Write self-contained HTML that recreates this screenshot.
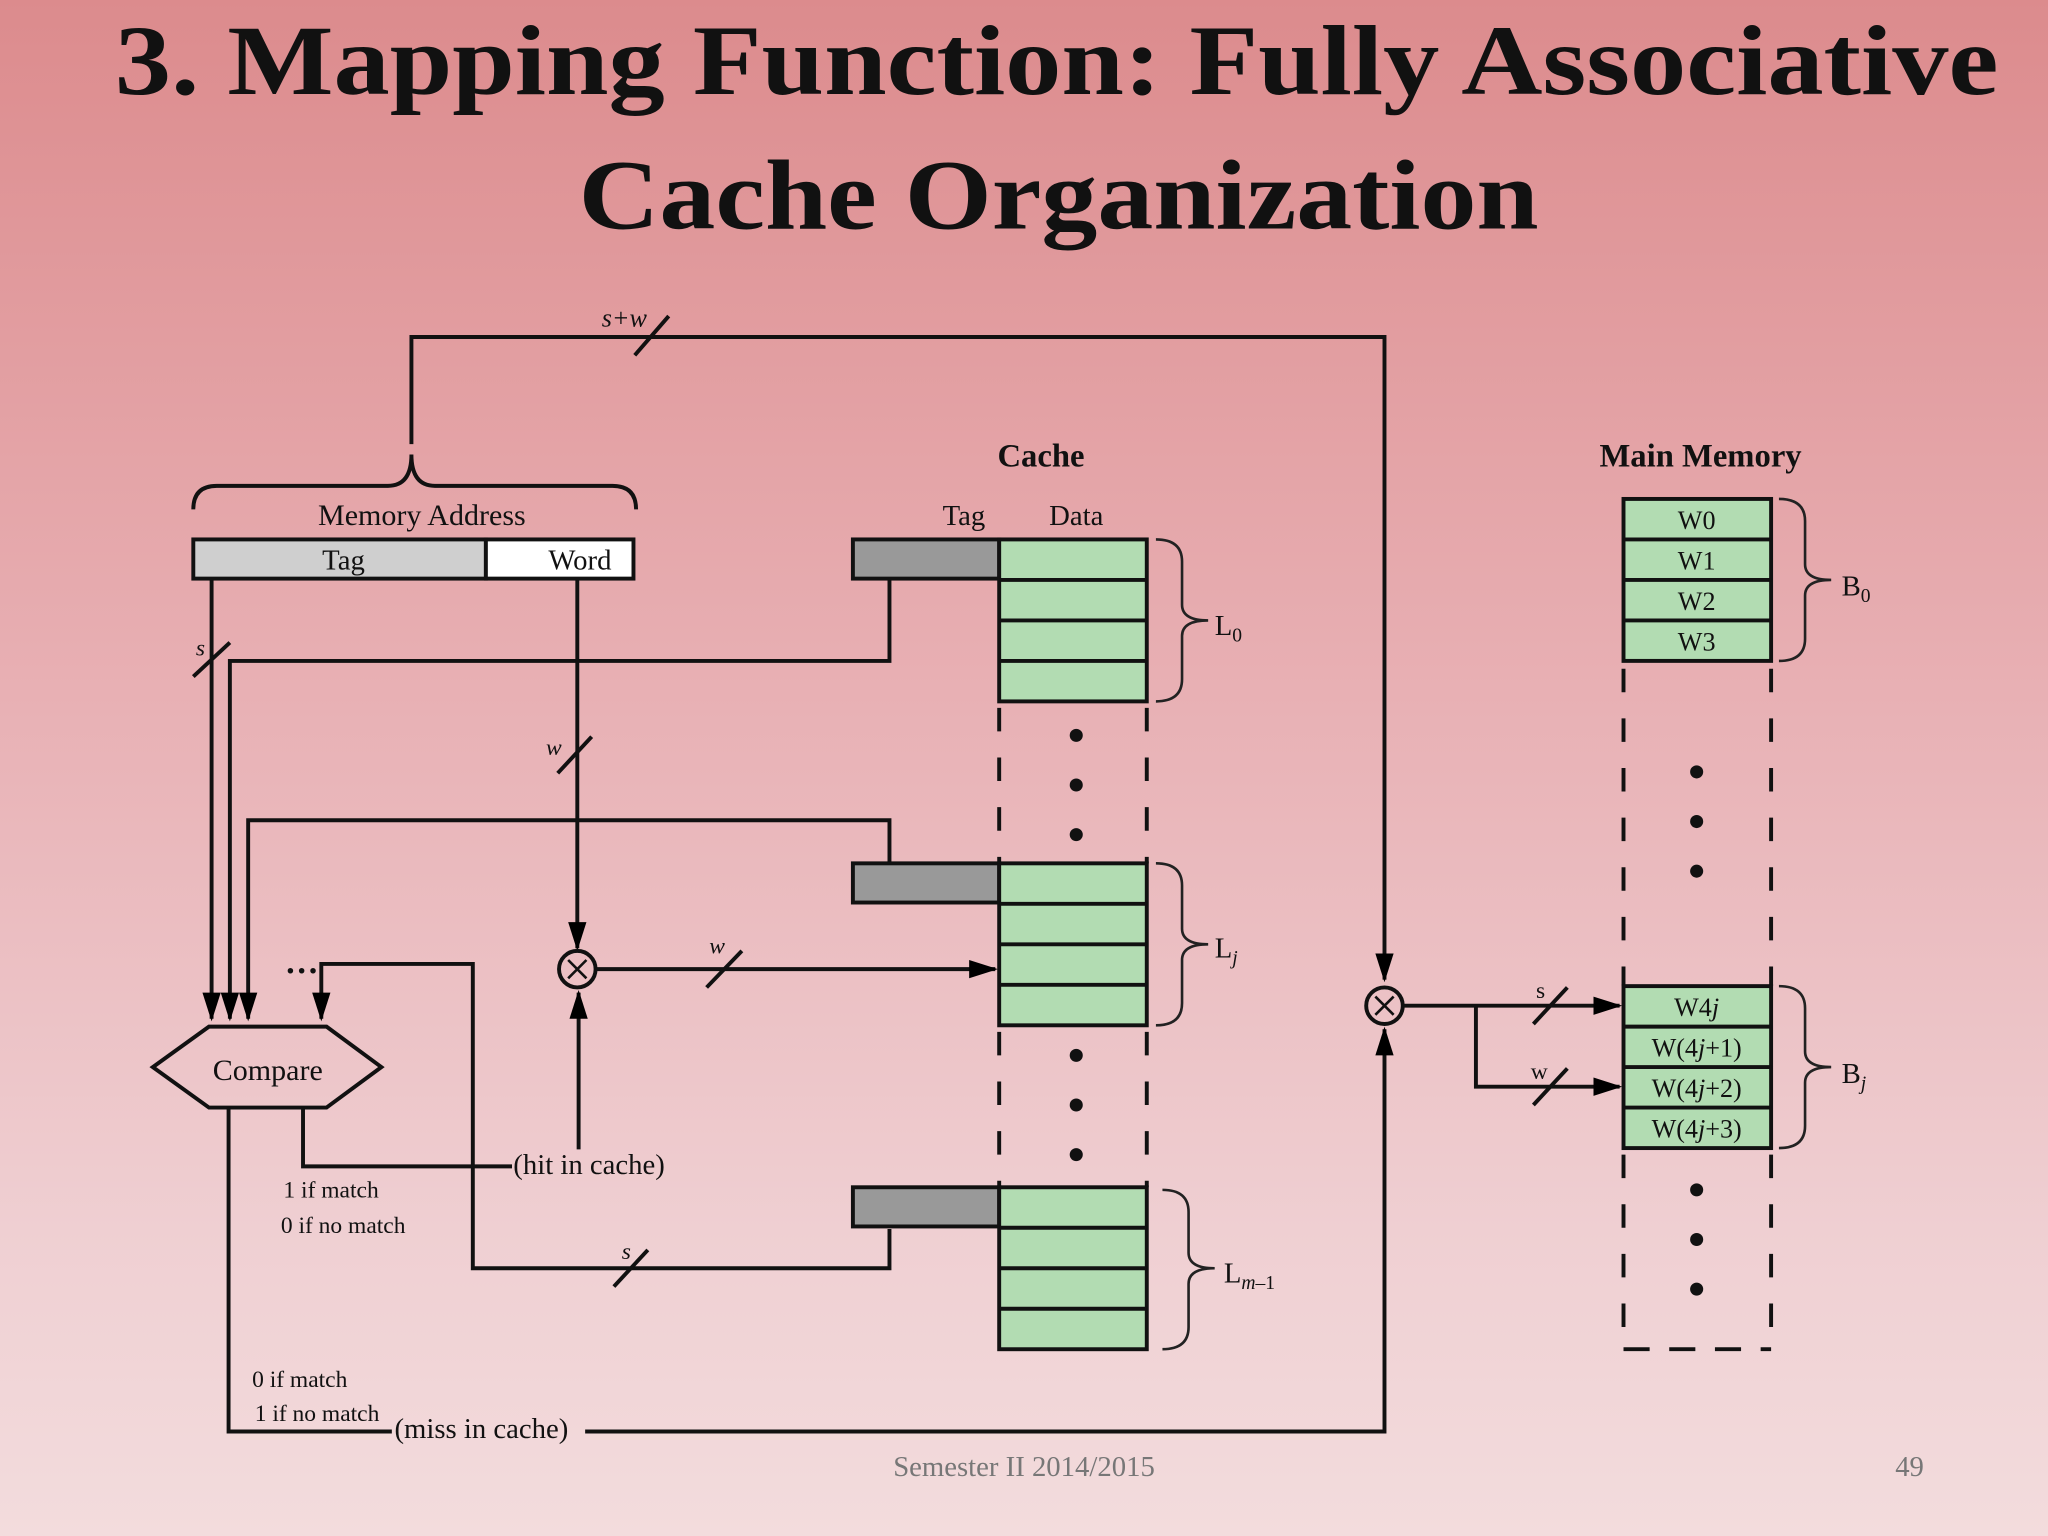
<!DOCTYPE html>
<html><head><style>
html,body{margin:0;padding:0}
body{width:2048px;height:1536px;overflow:hidden;background:linear-gradient(#dc8b8d,#e8b0b4 45%,#efcfd2 80%,#f3dcdd)}
svg{display:block}
text{font-family:"Liberation Serif",serif;fill:#111}
</style></head><body>
<svg width="2048" height="1536" viewBox="0 0 1568 1176" xmlns="http://www.w3.org/2000/svg">
<defs>
<marker id="b" markerWidth="22" markerHeight="22" refX="20" refY="11" orient="auto" markerUnits="userSpaceOnUse" viewBox="0 0 22 22"><path d="M0,4 L22,11 L0,18 Z" fill="#000"/></marker>
</defs>
<text x="88" y="72" font-size="76" font-weight="bold" textLength="1442" lengthAdjust="spacingAndGlyphs">3. Mapping Function: Fully Associative</text>
<text x="443" y="175" font-size="76" font-weight="bold" textLength="735" lengthAdjust="spacingAndGlyphs">Cache Organization</text>

<g stroke="#111" stroke-width="3" fill="none">
<polyline points="315,340 315,258 1060,258 1060,750" marker-end="url(#b)"/>
<line x1="486" y1="272" x2="512" y2="242"/>
<path d="M148,390 Q148,372 166,372 L297,372 Q315,372 315,348 Q315,372 333,372 L469,372 Q487,372 487,390"/>
<polyline points="162,443 162,780" marker-end="url(#b)"/>
<line x1="148" y1="518" x2="176" y2="492"/>
<polyline points="681,443 681,506 176,506 176,780" marker-end="url(#b)"/>
<polyline points="681,661 681,628 190,628 190,780" marker-end="url(#b)"/>
<polyline points="681,941 681,971 362,971 362,738 246,738 246,780" marker-end="url(#b)"/>
<line x1="470" y1="985" x2="496" y2="957"/>
<polyline points="442,443 442,726" marker-end="url(#b)"/>
<line x1="427" y1="592" x2="453" y2="564"/>
<circle cx="442" cy="742" r="14"/>
<path d="M435,735 L449,749 M449,735 L435,749" stroke-width="2"/>
<polyline points="456,742 762,742" marker-end="url(#b)"/>
<line x1="541" y1="756" x2="568" y2="728"/>
<polygon points="117,817 160,786 250,786 292,817 250,848 160,848" fill="none"/>
<polyline points="232,848 232,893 392,893"/>
<polyline points="443,880 443,760" marker-end="url(#b)"/>
<polyline points="175,848 175,1096 300,1096"/>
<polyline points="448,1096 1060,1096 1060,788" marker-end="url(#b)"/>
<circle cx="1060" cy="770" r="14"/>
<path d="M1053,763 L1067,777 M1067,763 L1053,777" stroke-width="2"/>
<polyline points="1074,770 1240,770" marker-end="url(#b)"/>
<polyline points="1130,770 1130,832 1240,832" marker-end="url(#b)"/>
<line x1="1174" y1="784" x2="1200" y2="756"/>
<line x1="1174" y1="846" x2="1200" y2="818"/>
</g>
<text x="478" y="250" font-size="20" font-style="italic" text-anchor="middle">s+w</text>
<text x="150" y="502" font-size="18" font-style="italic">s</text>
<text x="418" y="578" font-size="18" font-style="italic">w</text>
<text x="543" y="730" font-size="18" font-style="italic">w</text>
<text x="476" y="964" font-size="18" font-style="italic">s</text>
<text x="1176" y="764" font-size="18">s</text>
<text x="1172" y="826" font-size="18">w</text>
<text x="218" y="752" font-size="26" font-weight="bold">···</text>

<text x="323" y="402" font-size="23" text-anchor="middle">Memory Address</text>
<rect x="148" y="413" width="224" height="30" fill="#cfcfcf" stroke="#111" stroke-width="3"/>
<rect x="372" y="413" width="113" height="30" fill="#fff" stroke="#111" stroke-width="3"/>
<text x="263" y="436" font-size="22" text-anchor="middle">Tag</text>
<text x="444" y="436" font-size="22" text-anchor="middle">Word</text>

<text x="205" y="827" font-size="23" text-anchor="middle">Compare</text>
<text x="393" y="899" font-size="22">(hit in cache)</text>
<text x="217" y="917" font-size="18">1 if match</text>
<text x="215" y="944" font-size="18">0 if no match</text>
<text x="193" y="1062" font-size="18">0 if match</text>
<text x="195" y="1088" font-size="18">1 if no match</text>
<text x="302" y="1101" font-size="22">(miss in cache)</text>

<text x="797" y="357" font-size="25" font-weight="bold" text-anchor="middle">Cache</text>
<text x="738" y="402" font-size="22" text-anchor="middle">Tag</text>
<text x="824" y="402" font-size="22" text-anchor="middle">Data</text>
<g stroke="#111" stroke-width="3">
<rect x="653" y="413" width="112" height="30" fill="#999"/>
<rect x="765" y="413" width="113" height="124" fill="#b2dcb2"/>
<path d="M765,444H878M765,475H878M765,506H878"/>
<rect x="653" y="661" width="112" height="30" fill="#999"/>
<rect x="765" y="661" width="113" height="124" fill="#b2dcb2"/>
<path d="M765,692H878M765,723H878M765,754H878"/>
<rect x="653" y="909" width="112" height="30" fill="#999"/>
<rect x="765" y="909" width="113" height="124" fill="#b2dcb2"/>
<path d="M765,940H878M765,971H878M765,1002H878"/>
</g>
<g stroke="#111" stroke-width="3" stroke-dasharray="18,20" fill="none">
<path d="M765,542V661M878,542V661M765,790V909M878,790V909"/>
<path d="M1243,512V755M1356,512V755M1243,884V1033M1356,884V1033"/>
<path d="M1243,1033H1356" stroke-dasharray="20,15"/>
</g>
<g fill="#111">
<circle cx="824" cy="563" r="5"/><circle cx="824" cy="601" r="5"/><circle cx="824" cy="639" r="5"/>
<circle cx="824" cy="808" r="5"/><circle cx="824" cy="846" r="5"/><circle cx="824" cy="884" r="5"/>
<circle cx="1299" cy="591" r="5"/><circle cx="1299" cy="629" r="5"/><circle cx="1299" cy="667" r="5"/>
<circle cx="1299" cy="911" r="5"/><circle cx="1299" cy="949" r="5"/><circle cx="1299" cy="987" r="5"/>
</g>
<g stroke="#222" stroke-width="2" fill="none">
<path d="M885,413 Q905,413 905,430 L905,463 Q905,475 925,475 Q905,475 905,487 L905,520 Q905,537 885,537"/>
<path d="M885,661 Q905,661 905,678 L905,711 Q905,723 925,723 Q905,723 905,735 L905,768 Q905,785 885,785"/>
<path d="M890,911 Q910,911 910,928 L910,959 Q910,971 930,971 Q910,971 910,983 L910,1016 Q910,1033 890,1033"/>
<path d="M1362,382 Q1382,382 1382,399 L1382,432 Q1382,444 1402,444 Q1382,444 1382,456 L1382,489 Q1382,506 1362,506"/>
<path d="M1362,755 Q1382,755 1382,772 L1382,805 Q1382,817 1402,817 Q1382,817 1382,829 L1382,862 Q1382,879 1362,879"/>
</g>
<text x="930" y="486" font-size="22">L<tspan font-size="15" dy="5">0</tspan></text>
<text x="930" y="733" font-size="22">L<tspan font-size="15" dy="5" font-style="italic">j</tspan></text>
<text x="937" y="982" font-size="22">L<tspan font-size="15" dy="5"><tspan font-style="italic">m</tspan>–1</tspan></text>

<text x="1302" y="357" font-size="25" font-weight="bold" text-anchor="middle">Main Memory</text>
<g stroke="#111" stroke-width="3">
<rect x="1243" y="382" width="113" height="124" fill="#b2dcb2"/>
<path d="M1243,413H1356M1243,444H1356M1243,475H1356"/>
<rect x="1243" y="755" width="113" height="124" fill="#b2dcb2"/>
<path d="M1243,786H1356M1243,817H1356M1243,848H1356"/>
</g>
<g font-size="20" text-anchor="middle">
<text x="1299" y="405">W0</text><text x="1299" y="436">W1</text><text x="1299" y="467">W2</text><text x="1299" y="498">W3</text>
<text x="1299" y="778">W4<tspan font-style="italic">j</tspan></text>
<text x="1299" y="809">W(4<tspan font-style="italic">j</tspan>+1)</text>
<text x="1299" y="840">W(4<tspan font-style="italic">j</tspan>+2)</text>
<text x="1299" y="871">W(4<tspan font-style="italic">j</tspan>+3)</text>
</g>
<text x="1410" y="456" font-size="22">B<tspan font-size="15" dy="5">0</tspan></text>
<text x="1410" y="829" font-size="22">B<tspan font-size="15" dy="5" font-style="italic">j</tspan></text>

<text x="784" y="1130" font-size="22" text-anchor="middle" style="fill:#777">Semester II 2014/2015</text>
<text x="1462" y="1130" font-size="22" text-anchor="middle" style="fill:#777">49</text>
</svg>
</body></html>
